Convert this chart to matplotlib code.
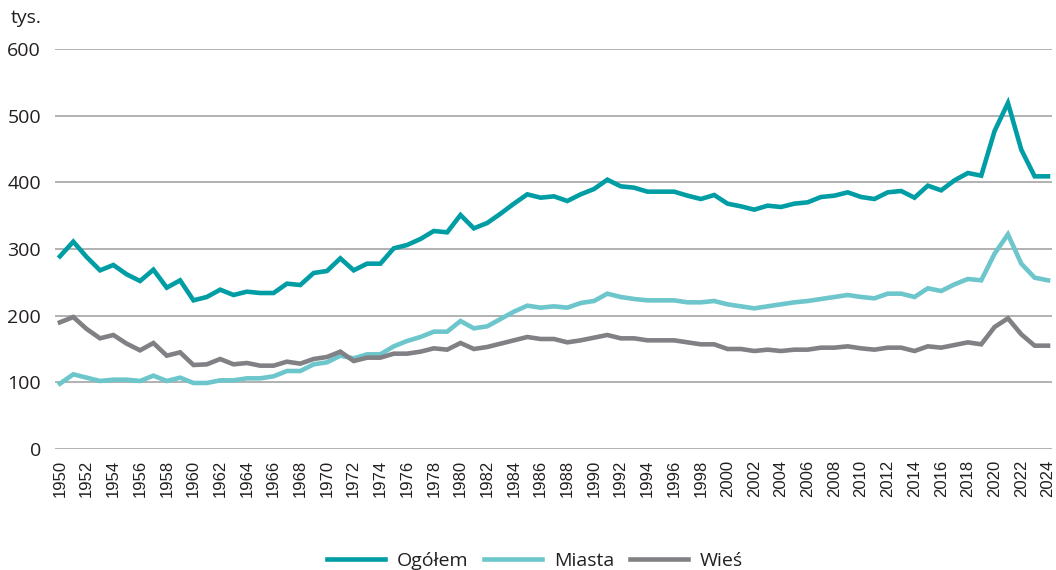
import matplotlib
matplotlib.use('Agg')
import matplotlib.pyplot as plt

years = list(range(1950, 2025))

ogolem = [289, 311, 288, 268, 276, 262, 252, 269, 242, 253,
          223, 228, 239, 231, 236, 234, 234, 248, 246, 264,
          267, 286, 268, 278, 278, 301, 306, 315, 327, 325,
          351, 331, 339, 353, 368, 382, 377, 379, 372, 382,
          390, 404, 394, 392, 386, 386, 386, 380, 375, 381,
          368, 364, 359, 365, 363, 368, 370, 378, 380, 385,
          378, 375, 385, 387, 377, 395, 388, 403, 414, 410,
          477, 519, 449, 409, 409]

miasta = [98, 112, 107, 102, 104, 104, 102, 110, 102, 107,
          99, 99, 103, 103, 106, 106, 109, 117, 117, 127,
          130, 140, 136, 142, 142, 154, 162, 168, 176, 176,
          192, 181, 184, 195, 206, 215, 212, 214, 212, 219,
          222, 233, 228, 225, 223, 223, 223, 220, 220, 222,
          217, 214, 211, 214, 217, 220, 222, 225, 228, 231,
          228, 226, 233, 233, 228, 241, 237, 247, 255, 253,
          293, 322, 278, 257, 253]

wies = [190, 198, 180, 166, 171, 158, 148, 159, 140, 145,
        126, 127, 135, 127, 129, 125, 125, 131, 128, 135,
        138, 146, 132, 137, 137, 143, 143, 146, 151, 149,
        159, 150, 153, 158, 163, 168, 165, 165, 160, 163,
        167, 171, 166, 166, 163, 163, 163, 160, 157, 157,
        150, 150, 147, 149, 147, 149, 149, 152, 152, 154,
        151, 149, 152, 152, 147, 154, 152, 156, 160, 157,
        183, 196, 172, 155, 155]

series_names = ['Ogółem', 'Miasta', 'Wieś']
colors = ['#009da5', '#6cc6cb', '#818185']
yticks = [0, 100, 200, 300, 400, 500, 600]

fig = plt.figure(figsize=(10.56, 5.7), dpi=100)
ax = fig.add_axes([55/1056, 121/570, (1052-55)/1056, 400/570])

for vals, name, c in zip([ogolem, miasta, wies], series_names, colors):
    ax.plot(years, vals, color=c, lw=3.3, label=name, solid_joinstyle='miter')

ax.set_xlim(1949.63, 2024.3)
ax.set_ylim(0, 600)
ax.set_yticks(yticks)
ax.set_yticklabels([str(v) for v in yticks], fontfamily='Open Sans', fontsize=14, color='#231f20')
ax.set_xticks(years[::2])
ax.set_xticklabels([str(y) for y in years[::2]], rotation=90, fontfamily='Liberation Sans',
                   fontsize=12, color='#231f20')
ax.tick_params(axis='both', length=0)
ax.tick_params(axis='y', pad=10)
ax.tick_params(axis='x', pad=8)
ax.grid(axis='y', color='#9d9d9d', lw=1.1)
ax.set_axisbelow(True)
for s in ax.spines.values():
    s.set_visible(False)

fig.text(11/1056, 1 - 18/570, 'tys.', fontfamily='Open Sans', fontsize=14,
         color='#231f20', va='center', ha='left')

leg = fig.legend(loc='center', bbox_to_anchor=(535/1056, 1 - 561/570), ncol=3, frameon=False,
                 prop={'family': 'Open Sans', 'size': 14}, handlelength=3.0,
                 handletextpad=0.6, columnspacing=0.8)
for t in leg.get_texts():
    t.set_color('#231f20')

fig.savefig('out.png', dpi=100, facecolor='white')
